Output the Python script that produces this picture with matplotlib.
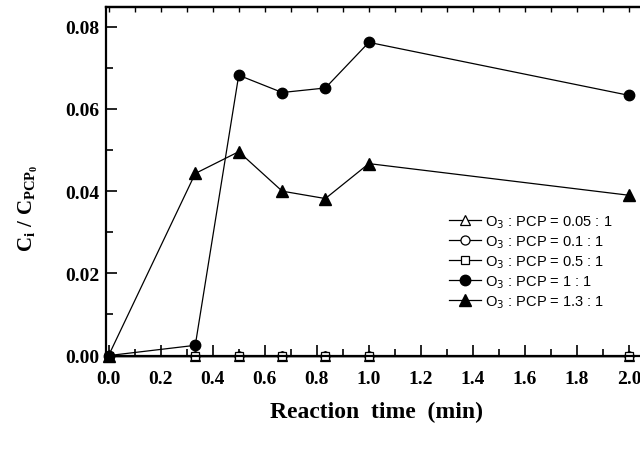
import numpy as np
import matplotlib
matplotlib.use("Agg")
import matplotlib.pyplot as plt
from matplotlib.ticker import MultipleLocator

plt.rcParams["mathtext.fontset"] = "custom"
plt.rcParams["mathtext.rm"] = "Liberation Serif:bold"
plt.rcParams["mathtext.it"] = "Liberation Serif:bold"
plt.rcParams["mathtext.bf"] = "Liberation Serif:bold"

# reaction time (min)
time = [0.0, 0.333, 0.5, 0.667, 0.833, 1.0, 2.0]

ratio_005 = [0, 0, 0, 0, 0, 0, 0]
ratio_01 = [0, 0, 0, 0, 0, 0, 0]
ratio_05 = [0, 0, 0, 0, 0, 0, 0]
ratio_1 = [0, 0.0025, 0.0682, 0.0640, 0.0651, 0.0762, 0.0633]
ratio_13 = [0, 0.0443, 0.0496, 0.0400, 0.0382, 0.0467, 0.0390]

labels = ["0.05 : 1", "0.1 : 1", "0.5 : 1", "1 : 1", "1.3 : 1"]

fig = plt.figure(figsize=(6.4, 4.52), dpi=100)

ax = fig.add_axes([106 / 640, 95 / 452, 538.7 / 640, 349 / 452])

lw = 0.9
ax.plot(time, ratio_005, "-", color="black", lw=lw, marker="^", ms=7,
        mfc="white", mec="black", mew=0.9, clip_on=False)
ax.plot(time, ratio_01, "-", color="black", lw=lw, marker="o", ms=6.5,
        mfc="white", mec="black", mew=0.9, clip_on=False)
ax.plot(time, ratio_05, "-", color="black", lw=lw, marker="s", ms=6,
        mfc="white", mec="black", mew=0.9, clip_on=False)
ax.plot(time, ratio_1, "-", color="black", lw=lw, marker="o", ms=7.5,
        mfc="black", mec="black", clip_on=False)
ax.plot(time, ratio_13, "-", color="black", lw=lw, marker="^", ms=8.5,
        mfc="black", mec="black", clip_on=False)

ax.set_xlim(-0.01, 2.06)
ax.set_ylim(-0.0001, 0.0848)

ax.xaxis.set_minor_locator(MultipleLocator(0.1))
ax.yaxis.set_minor_locator(MultipleLocator(0.01))
ax.set_xticks(np.arange(0, 2.01, 0.2))
ax.set_xticklabels([f"{v:.1f}" for v in np.arange(0, 2.01, 0.2)])
ax.set_yticks(np.arange(0, 0.081, 0.02))
ax.set_yticklabels([f"{v:.2f}" for v in np.arange(0, 0.081, 0.02)])

ax.tick_params(which="both", direction="in", width=1.2, top=False, right=False)
ax.tick_params(which="major", length=8)
ax.tick_params(which="minor", length=5)
ax.tick_params(axis="x", pad=10)
ax.tick_params(axis="y", pad=5)
for lab in ax.get_xticklabels() + ax.get_yticklabels():
    lab.set_family("Liberation Serif")
    lab.set_fontweight("bold")
    lab.set_fontsize(14)

# short ticks along the top edge
top = ax.secondary_xaxis("top")
top.set_xticks(np.arange(0, 2.01, 0.1))
top.tick_params(direction="in", length=3.5, width=1, labeltop=False)

for side in ["left", "bottom", "top"]:
    ax.spines[side].set_linewidth(1.6)
ax.spines["right"].set_visible(False)
top.spines["top"].set_linewidth(1.6)

leg = ax.legend([r"O$_3$ : PCP = " + l for l in labels], loc="upper left",
                bbox_to_anchor=(0.625, 0.425), frameon=False,
                prop={"family": "Liberation Sans", "size": 10.5,
                      "math_fontfamily": "dejavusans"},
                handlelength=2.2, handletextpad=0.3, labelspacing=0.22,
                borderaxespad=0)

fig.text(376 / 640, 1 - 412 / 452, "Reaction  time  (min)", family="Liberation Serif",
         fontweight="bold", fontsize=17, ha="center", va="center")
fig.text(28 / 640, 1 - 208 / 452, r"$C_i\ /\ C_{PCP_0}$", fontsize=15,
         rotation=90, ha="center", va="center")

fig.savefig("out.png", dpi=100)
